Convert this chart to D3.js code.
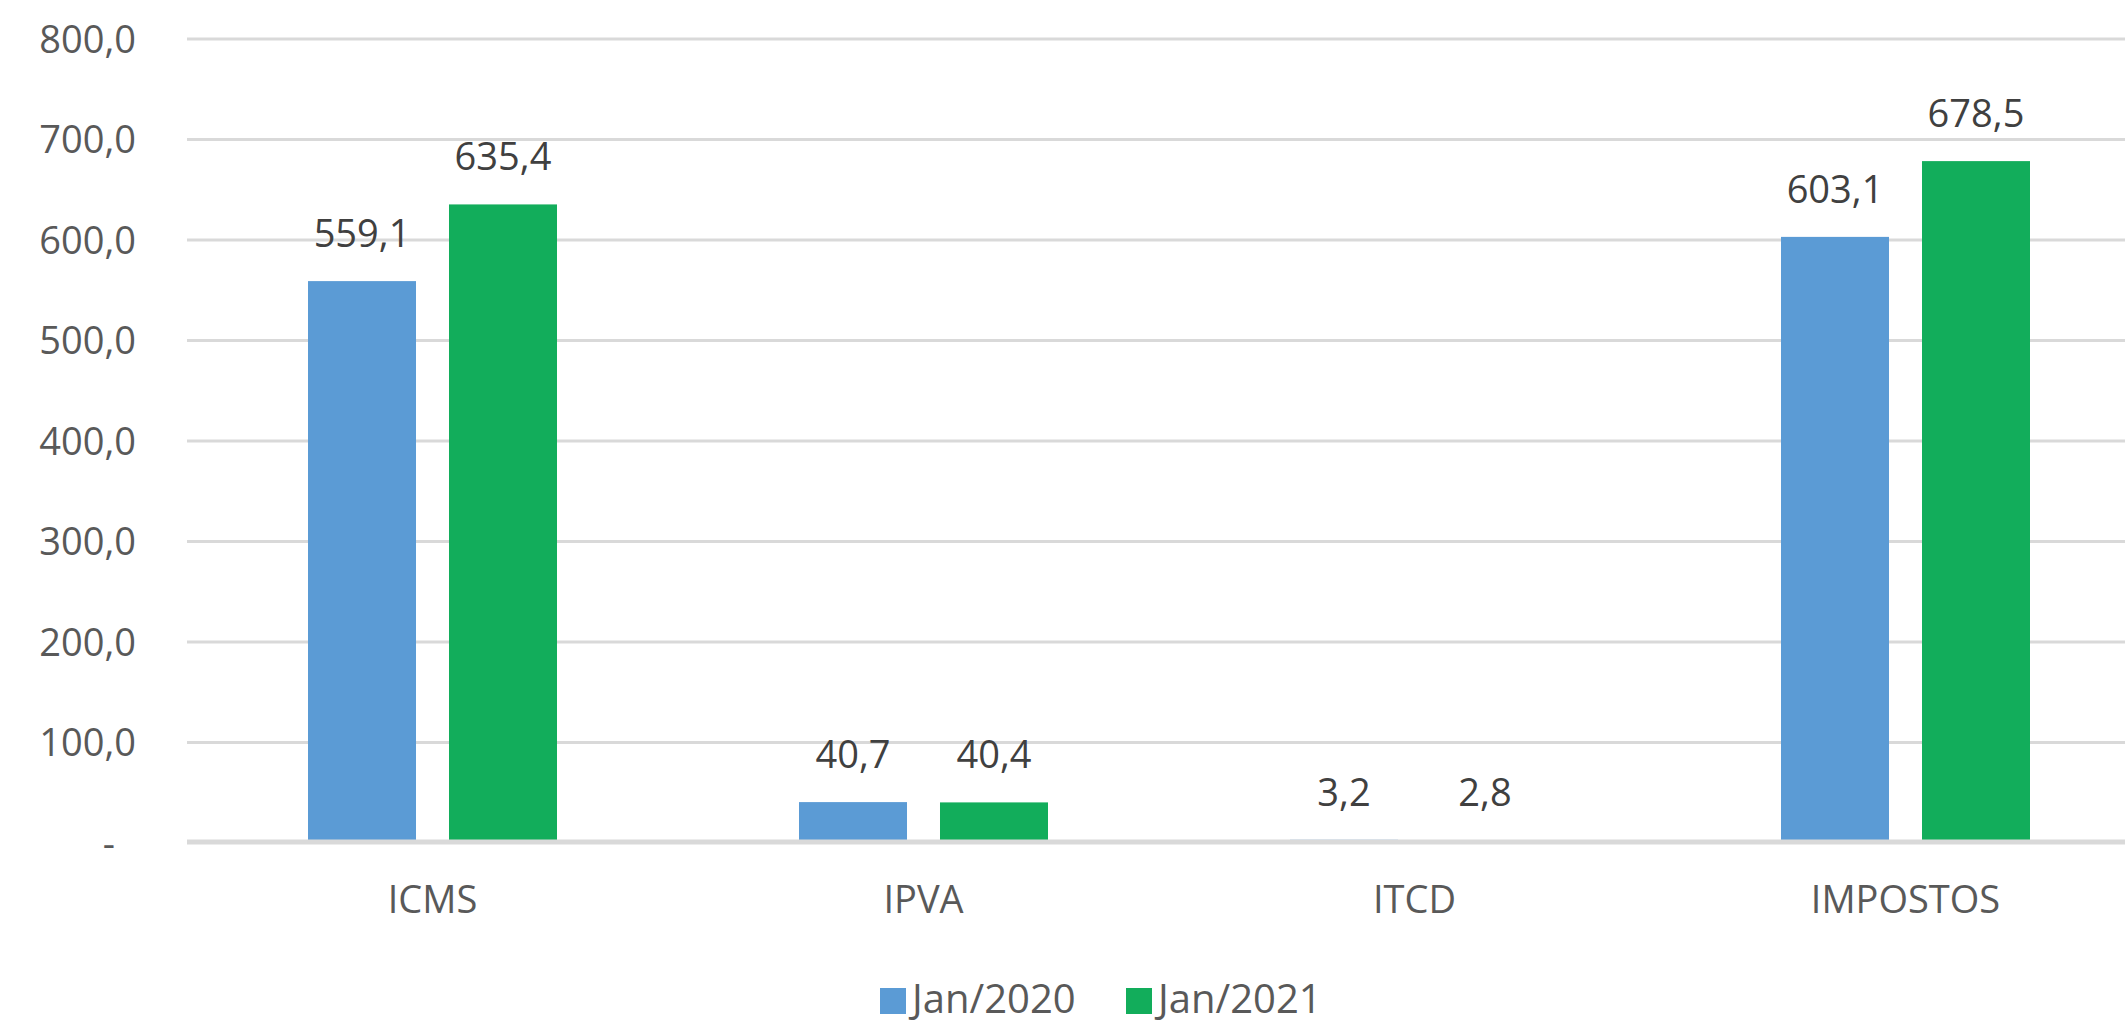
<!DOCTYPE html>
<html>
<head>
<meta charset="utf-8">
<script src="https://cdn.jsdelivr.net/npm/d3@7"></script>
<style>
  body { margin: 0; background: #fff; }
  text { font-family: "Open Sans", sans-serif; }
</style>
</head>
<body>
<div id="chart"></div>
<script>
const categories = ["ICMS", "IPVA", "ITCD", "IMPOSTOS"];
const seriesNames = ["Jan/2020", "Jan/2021"];
const jan2020 = [559.1, 40.7, 3.2, 603.1];
const jan2021 = [635.4, 40.4, 2.8, 678.5];
const yTicks = [0, 100, 200, 300, 400, 500, 600, 700, 800];
const colors = ["#5B9BD5", "#12AD5B"];

const W = 2125, H = 1021;
const plot = {left: 187, right: 2151, top: 39, bottom: 843};

const fmt = v => v === 0 ? "-" : v.toFixed(1).replace(".", ",");

const svg = d3.select("#chart").append("svg")
    .attr("width", W)
    .attr("height", H);

const x0 = d3.scaleBand()
    .domain(categories)
    .range([plot.left, plot.right])
    .padding(0);

const x1 = d3.scaleBand()
    .domain(seriesNames)
    .range([121, x0.bandwidth() - 121])
    .paddingInner(0.234);

const y = d3.scaleLinear()
    .domain([0, 800])
    .range([plot.bottom, plot.top]);

// gridlines (zero line drawn later, over the bars)
svg.append("g")
    .selectAll("line")
    .data(yTicks.filter(d => d !== 0))
    .join("line")
        .attr("x1", plot.left)
        .attr("x2", plot.right)
        .attr("y1", d => y(d))
        .attr("y2", d => y(d))
        .attr("stroke", "#D9D9D9")
        .attr("stroke-width", 3);

// y axis labels
const yAxis = svg.append("g")
    .attr("transform", `translate(${plot.left - 51}, 0)`)
    .call(d3.axisLeft(y).tickValues(yTicks).tickFormat(fmt).tickSize(0).tickPadding(0));
yAxis.select(".domain").remove();
yAxis.selectAll("text")
    .attr("fill", "#595959")
    .style("font-size", "38px")
    .attr("dy", "0.35em")
    .attr("dx", d => d === 0 ? -21 : 0);

// bars
const data = categories.map((c, i) => ({cat: c, values: [jan2020[i], jan2021[i]]}));

const groups = svg.append("g")
    .selectAll("g")
    .data(data)
    .join("g")
        .attr("transform", d => `translate(${x0(d.cat)}, 0)`);

groups.selectAll("rect")
    .data(d => d.values.map((v, j) => ({key: seriesNames[j], value: v, j})))
    .join("rect")
        .attr("x", d => x1(d.key))
        .attr("y", d => y(d.value))
        .attr("width", x1.bandwidth())
        .attr("height", d => y(0) - y(d.value))
        .attr("fill", d => colors[d.j]);

groups.selectAll("text.val")
    .data(d => d.values.map((v, j) => ({key: seriesNames[j], value: v})))
    .join("text")
        .attr("class", "val")
        .attr("x", d => x1(d.key) + x1.bandwidth() / 2)
        .attr("y", d => y(d.value) - 34)
        .attr("text-anchor", "middle")
        .attr("fill", "#404040")
        .style("font-size", "38px")
        .text(d => fmt(d.value));

// baseline
svg.append("line")
    .attr("x1", plot.left)
    .attr("x2", plot.right)
    .attr("y1", y(0) - 1)
    .attr("y2", y(0) - 1)
    .attr("stroke", "#D9D9D9")
    .attr("stroke-width", 5);

// x axis labels
const xAxis = svg.append("g")
    .attr("transform", `translate(0, ${plot.bottom})`)
    .call(d3.axisBottom(x0).tickSize(0).tickPadding(0));
xAxis.select(".domain").remove();
xAxis.selectAll("text")
    .attr("fill", "#595959")
    .style("font-size", "38px")
    .attr("dy", "1.85em");

// legend
const legend = svg.append("g")
    .attr("transform", "translate(880, 0)");
const items = legend.selectAll("g")
    .data(seriesNames)
    .join("g")
        .attr("transform", (d, i) => `translate(${i * 246}, 0)`);
items.append("rect")
    .attr("y", 988)
    .attr("width", 26)
    .attr("height", 26)
    .attr("fill", (d, i) => colors[i]);
items.append("text")
    .attr("x", 32)
    .attr("y", 1013)
    .attr("fill", "#595959")
    .style("font-size", "40px")
    .text(d => d);
</script>
</body>
</html>
